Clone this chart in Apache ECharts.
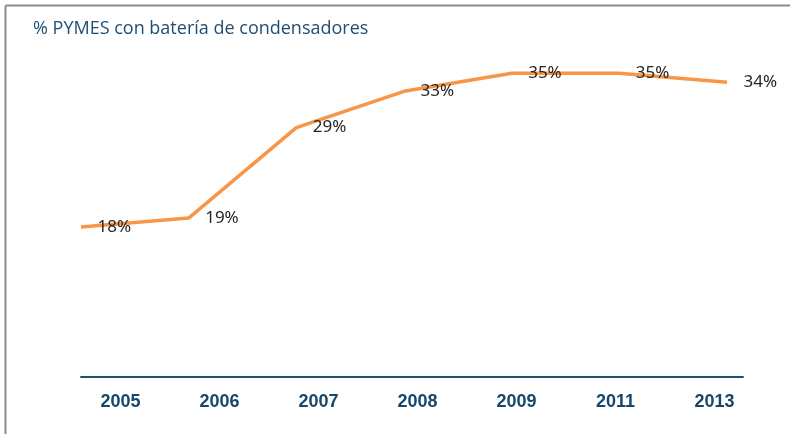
<!DOCTYPE html>
<html><head><meta charset="utf-8">
<script src="https://cdn.jsdelivr.net/npm/echarts@6/dist/echarts.min.js"></script>
<style>html,body{margin:0;padding:0;background:#fff}#c{width:790px;height:434px}</style>
</head><body><div id="c"></div>
<script>
var categories = ['2005','2006','2007','2008','2009','2011','2013'];
var values = [18,19,29,33,35,35,34];
var titleText = '% PYMES con batería de condensadores';

var chart = echarts.init(document.getElementById('c'), null, {renderer:'canvas'});
chart.setOption({
  animation:false,
  backgroundColor:'#fff',
  title:{text:titleText,left:28,top:15,textStyle:{fontFamily:'Open Sans',fontSize:18,fontWeight:'normal',color:'#1f4e72'}},
  graphic:[
    {type:'line',shape:{x1:5.5,y1:5.5,x2:790,y2:5.5},style:{stroke:'#8c8c8c',lineWidth:2}},
    {type:'line',shape:{x1:5.5,y1:5.5,x2:5.5,y2:434},style:{stroke:'#8c8c8c',lineWidth:2}}
  ],
  grid:[
    {left:71,width:693,top:28,bottom:57},
    {left:81,right:63,top:28,bottom:44},
    {left:81,right:47,top:28,bottom:57}
  ],
  xAxis:[
    {gridIndex:0,type:'category',data:categories,boundaryGap:true,axisLine:{show:false},axisTick:{show:false},
     axisLabel:{margin:16,fontFamily:'Liberation Sans',fontWeight:'bold',fontSize:18,color:'#17476b'}},
    {gridIndex:1,type:'category',data:categories,boundaryGap:false,show:false},
    {gridIndex:2,type:'category',data:categories,axisLine:{show:true,lineStyle:{color:'#1f5070',width:2}},axisTick:{show:false},axisLabel:{show:false}}
  ],
  yAxis:[
    {gridIndex:0,type:'value',show:false,min:0,max:40},
    {gridIndex:1,type:'value',show:false,min:0,max:40,splitLine:{show:false}},
    {gridIndex:2,type:'value',show:false,min:0,max:40}
  ],
  series:[{
    type:'line',xAxisIndex:1,yAxisIndex:1,data:values,symbol:'circle',symbolSize:1,showSymbol:true,
    itemStyle:{color:'rgba(0,0,0,0)'},
    lineStyle:{color:'#f79646',width:3.5},
    label:{show:true,position:'right',distance:16,offset:[0,4],formatter:'{c}%',
      fontFamily:'Noto Sans',fontSize:17,color:'#262626'},
    labelLayout:{hideOverlap:false}
  }]
});
</script></body></html>
